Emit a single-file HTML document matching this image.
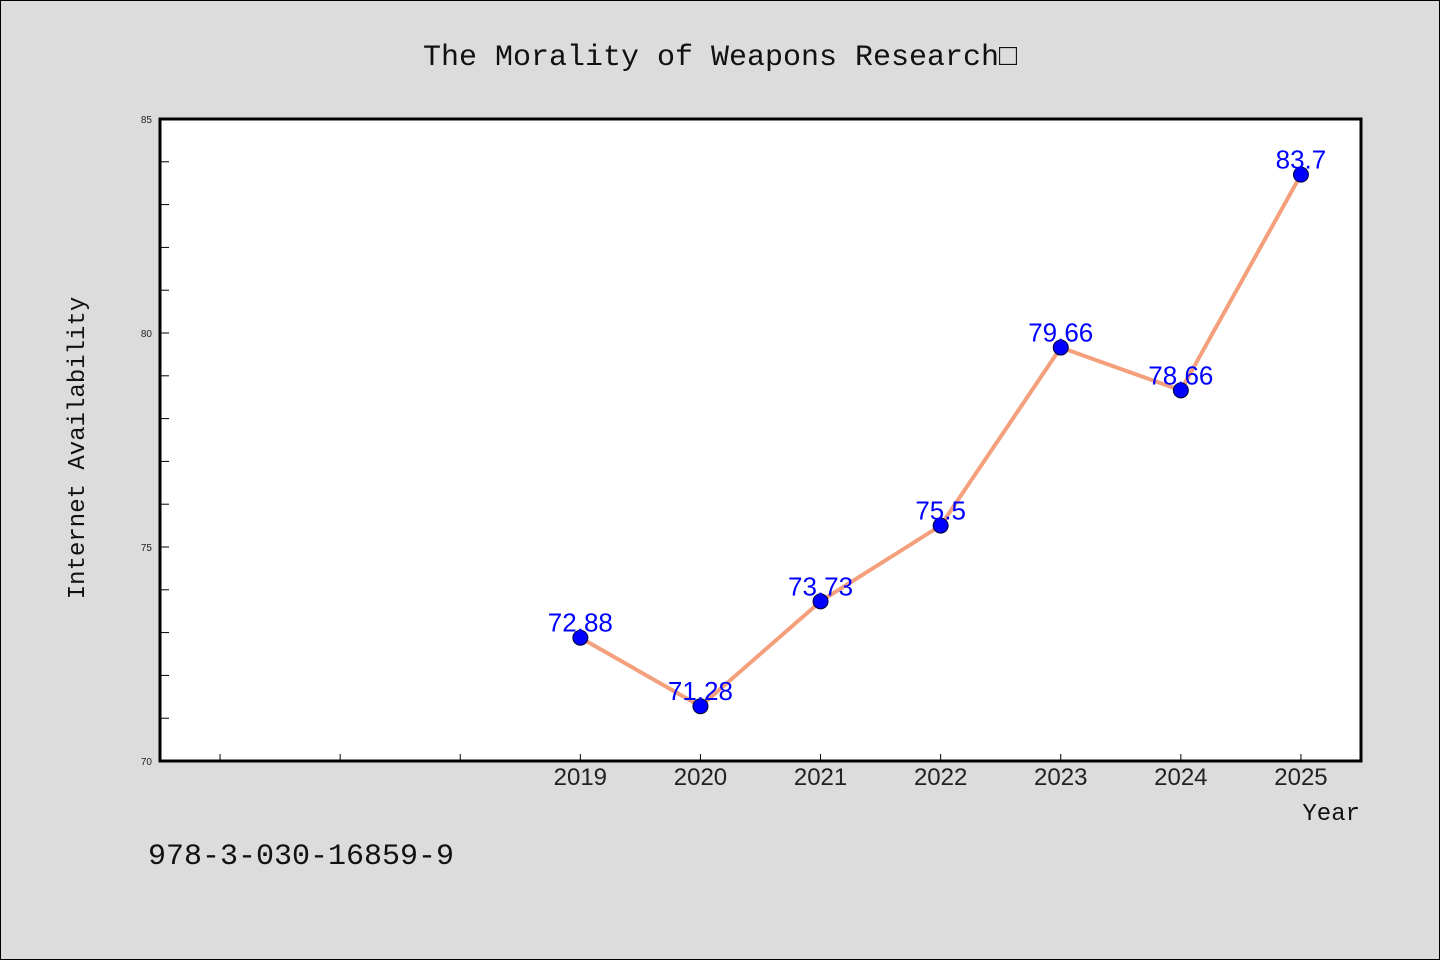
<!DOCTYPE html>
<html><head><meta charset="utf-8"><style>
html,body{margin:0;padding:0;background:#dcdcdc;}
svg{display:block;}
</style></head><body>
<svg width="1440" height="960" viewBox="0 0 1440 960">
<rect x="0.5" y="0.5" width="1439" height="959" fill="#dcdcdc" stroke="#000" stroke-width="1"/>
<text x="720" y="65" text-anchor="middle" font-family="Liberation Mono, monospace" font-size="30" fill="#111">The Morality of Weapons Research□</text>
<rect x="160" y="119" width="1201" height="642" fill="#fff"/>
<g id="ticks"></g>
<g id="series"></g>
<rect x="160" y="119" width="1201" height="642" fill="none" stroke="#000" stroke-width="3"/>
<text transform="translate(84,448) rotate(-90)" text-anchor="middle" font-family="Liberation Mono, monospace" font-size="24" fill="#111">Internet Availability</text>
<text x="1360" y="820" text-anchor="end" font-family="Liberation Mono, monospace" font-size="24" fill="#111">Year</text>
<text x="148" y="864" font-family="Liberation Mono, monospace" font-size="30" fill="#111">978-3-030-16859-9</text>
</svg>
<script>
const years = [2019, 2020, 2021, 2022, 2023, 2024, 2025];
const values = [72.88, 71.28, 73.73, 75.5, 79.66, 78.66, 83.7];
const labels = ["72.88", "71.28", "73.73", "75.5", "79.66", "78.66", "83.7"];
const yTickLabels = [70, 75, 80, 85];
const xTickYears = [2016, 2017, 2018, 2019, 2020, 2021, 2022, 2023, 2024, 2025];

const NS = "http://www.w3.org/2000/svg";
const X0 = 160, X1 = 1361, Y0 = 761, Y1 = 119;
const xMin = 2015.5, xMax = 2025.5, yMin = 70, yMax = 85;
function xs(v){ return X0 + (v - xMin) / (xMax - xMin) * (X1 - X0); }
function ys(v){ return Y0 - (v - yMin) / (yMax - yMin) * (Y0 - Y1); }
function mk(tag, attrs){ const e = document.createElementNS(NS, tag); for (const k in attrs) e.setAttribute(k, attrs[k]); return e; }

const tg = document.getElementById('ticks');
for (let v = yMin + 1; v < yMax; v++) {
  const t = mk('line', {x1: X0, x2: X0 + 9, y1: ys(v), y2: ys(v), stroke: '#000', 'stroke-width': 1});
  
  
  tg.appendChild(t);
}
yTickLabels.forEach(v => {
  const t = mk('text', {x: 152, y: ys(v) + 4, 'text-anchor': 'end', 'font-family': 'Liberation Sans, sans-serif', 'font-size': 10, fill: '#222'});
  t.textContent = v;
  
  
  tg.appendChild(t);
});
xTickYears.forEach(v => {
  const t = mk('line', {x1: xs(v), x2: xs(v), y1: Y0, y2: Y0 - 7, stroke: '#000', 'stroke-width': 1});
  
  
  tg.appendChild(t);
});
years.forEach(v => {
  const t = mk('text', {x: xs(v), y: 785, 'text-anchor': 'middle', 'font-family': 'Liberation Sans, sans-serif', 'font-size': 24, fill: '#222'});
  t.textContent = v;
  
  
  tg.appendChild(t);
});

const sg = document.getElementById('series');
const pts = years.map((y, i) => xs(y) + ',' + ys(values[i])).join(' ');
const line = mk('polyline', {points: pts, fill: 'none', stroke: '#f4a07c', 'stroke-width': 4, 'stroke-linejoin': 'round'});


sg.appendChild(line);
years.forEach((y, i) => {
  const c = mk('circle', {cx: xs(y), cy: ys(values[i]), r: 7.5, fill: '#0000ff', stroke: '#000033', 'stroke-width': 1});
  
  
  sg.appendChild(c);
  const t = mk('text', {x: xs(y), y: ys(values[i]) - 6, 'text-anchor': 'middle', 'font-family': 'Liberation Sans, sans-serif', 'font-size': 26, fill: '#0000ff'});
  t.textContent = labels[i];
  
  
  sg.appendChild(t);
});
</script>
</body></html>
